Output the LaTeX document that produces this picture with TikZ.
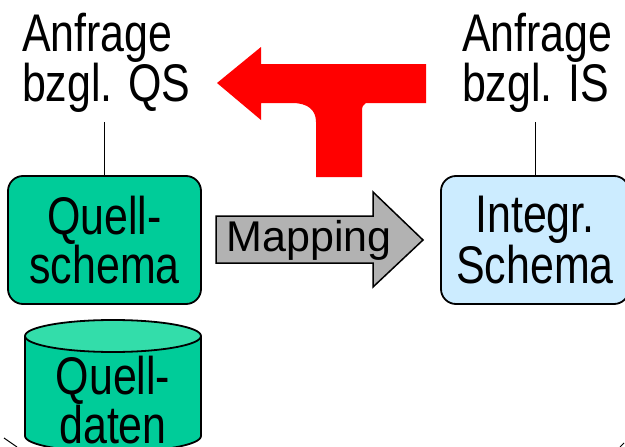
\documentclass[tikz,border=0pt]{standalone}
\usepackage{fontspec}
\setmainfont{Liberation Sans}
\newfontfamily\narrowsf[FakeStretch=0.81]{Liberation Sans}
\usepackage{xcolor}
\usepackage{tikz}
\usetikzlibrary{calc}
\definecolor{figline}{RGB}{0,0,0}
\definecolor{qgreen}{RGB}{0,204,153}
\definecolor{qgreenlt}{RGB}{51,221,170}
\definecolor{iblue}{RGB}{204,236,255}
\definecolor{mapgray}{RGB}{178,178,178}
\definecolor{qred}{RGB}{255,0,0}
\newcommand{\biglab}{\narrowsf\fontsize{53}{49}\selectfont}
\tikzset{
  lab/.style  ={font=\biglab, align=left, inner xsep=0pt, inner ysep=9pt, outer sep=0pt},
  box/.style  ={draw=figline, line width=1.8pt, rounded corners=15pt, minimum width=193pt,
                minimum height=128pt, inner sep=0pt, font=\biglab, align=center},
  qbox/.style ={box, fill=qgreen},
  ibox/.style ={box, fill=iblue, minimum width=188pt},
  conn/.style ={draw=figline, line width=1pt},
  maplab/.style ={font=\fontsize{43}{43}\selectfont, inner sep=0pt},
}

\begin{document}
\begin{tikzpicture}[x=1pt,y=-1pt]
  \clip (0,0) rectangle (625,447);
  % red query arrow
  \fill[qred] (217,83) -- (261,47) -- (261,64) -- (426,64) -- (426,103) -- (366,103)
    .. controls (363,104) and (362,107) .. (362,111) -- (362,177) -- (316,177) -- (316,122)
    .. controls (316,110) and (308,103) .. (292,103) -- (261,103) -- (261,120) -- cycle;
  % mapping arrow
  \draw[draw=figline, line width=1.5pt, fill=mapgray] (216,216) -- (373,216) -- (373,192) -- (423,240)
    -- (373,287) -- (373,263) -- (216,263) -- cycle;
  \node[maplab] (map) at (309,240) {Mapping};
  % schema boxes
  \node[qbox] (qs) at (104.5,240) {Quell-\\schema};
  \node[ibox] (is) at (535,240) {Integr.\\Schema};
  % source data cylinder
  \fill[qgreen] (25,336) -- (25,436) arc[start angle=180, end angle=0, x radius=88, y radius=16]
    -- (201,336) -- cycle;
  \draw[draw=figline, line width=1.8pt] (25,336) -- (25,436) arc[start angle=180, end angle=0, x radius=88, y radius=16]
    -- (201,336);
  \draw[draw=figline, line width=1.8pt, fill=qgreenlt] (113,336) ellipse[x radius=88, y radius=16];
  \node[font=\biglab, align=center, inner sep=0pt] (qd) at (113,400) {Quell-\\daten};
  % query labels
  \node[lab, anchor=north west] (aqs) at (22,4) {Anfrage\\bzgl. QS};
  \node[lab, anchor=north west] (ais) at (462,4) {Anfrage\\bzgl. IS};
  \draw[conn] (qs.north) -- (qs.north |- aqs.south);
  \draw[conn] (is.north) -- (is.north |- ais.south);
  % cut-off edges
  \draw[conn] (4,438) -- (17,447);
  \draw[conn] (620,447) -- (624,443);
\end{tikzpicture}
\end{document}
